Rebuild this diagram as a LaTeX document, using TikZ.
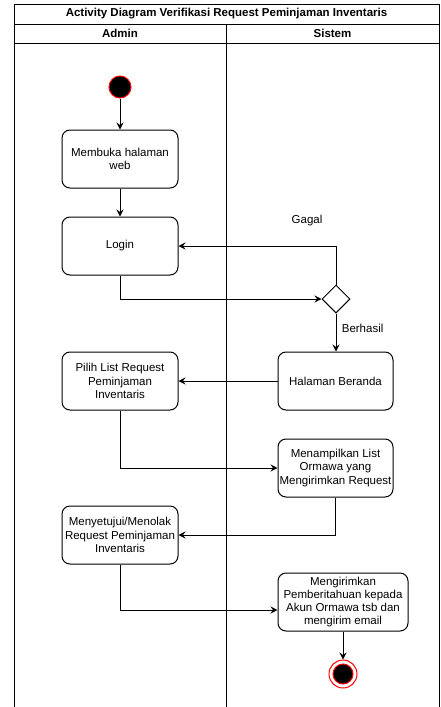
\documentclass[tikz,border=0pt]{standalone}
\usepackage{fontspec}
\setmainfont{Liberation Sans}
\usetikzlibrary{shapes.geometric,arrows.meta}
\begin{document}
\begin{tikzpicture}[x=1pt,y=-1pt,line width=1pt,font=\fontsize{11.5}{13.3}\selectfont]
      \tikzstyle{aksi} = [draw, rounded corners=8pt, minimum width=116pt, minimum height=58pt, align=center, inner sep=1pt]
      \tikzstyle{alur} = [draw, -{Stealth[length=7pt,width=7pt,inset=2.5pt]}]
      \useasboundingbox (0,0) rectangle (440,707);
      % swimlane
      \draw (14,707) -- (14,4) -- (439,4) -- (439,707);
      \draw (14,24) -- (439,24);
      \draw (14,43) -- (439,43);
      \draw (226,24) -- (226,707);
      \node[font=\fontsize{11.5}{13.3}\selectfont\bfseries] (judul) at (226.5,14) {Activity Diagram Verifikasi Request Peminjaman Inventaris};
      \node[font=\fontsize{11.5}{13.3}\selectfont\bfseries] (admin) at (120,33.5) {Admin};
      \node[font=\fontsize{11.5}{13.3}\selectfont\bfseries] (sistem) at (332.5,33.5) {Sistem};
      % aktivitas
      \node[circle, fill=black, draw=red, minimum size=22pt, inner sep=0pt] (mulai) at (120,87) {};
      \node[aksi] (buka) at (120,159) {Membuka halaman\\web};
      \node[aksi] (login) at (120,246) {Login};
      \node[diamond, draw, aspect=1, minimum width=28pt, minimum height=28pt, inner sep=0pt] (cek) at (336,299) {};
      \node (gagal) at (307,221) {Gagal};
      \node[aksi, minimum width=115pt] (beranda) at (335.5,381) {Halaman Beranda};
      \node[aksi] (pilih) at (120,381) {Pilih List Request\\Peminjaman\\Inventaris};
      \node[aksi, minimum width=115pt] (tampil) at (335.5,468) {Menampilkan List\\Ormawa yang\\Mengirimkan Request};
      \node[aksi] (setuju) at (120,535) {Menyetujui/Menolak\\Request Peminjaman\\Inventaris};
      \node[aksi, minimum width=130pt] (kirim) at (343,602) {Mengirimkan\\Pemberitahuan kepada\\Akun Ormawa tsb dan\\mengirim email};
      \node[circle, draw=red, fill=white, minimum size=28pt, inner sep=0pt] (selesai) at (343,674) {};
      \node[circle, draw=red, fill=black, minimum size=20pt, inner sep=0pt] (selesaiisi) at (selesai) {};
      % alur
      \draw[alur] (mulai) -- (buka);
      \draw[alur] (buka) -- (login);
      \draw[alur] (login.south) |- (cek.west);
      \draw[alur] (cek.north) |- (login.east);
      \draw[alur] (cek.south) -- node[pos=0.4, right, xshift=2pt]{Berhasil} (cek.south |- beranda.north);
      \draw[alur] (beranda) -- (pilih);
      \draw[alur] (pilih.south) |- (tampil.west);
      \draw[alur] (tampil.south) |- (setuju.east);
      \draw[alur] (setuju.south) |- ([yshift=-8pt]kirim.west);
      \draw[alur] (kirim) -- (selesai);
\end{tikzpicture}
\end{document}
